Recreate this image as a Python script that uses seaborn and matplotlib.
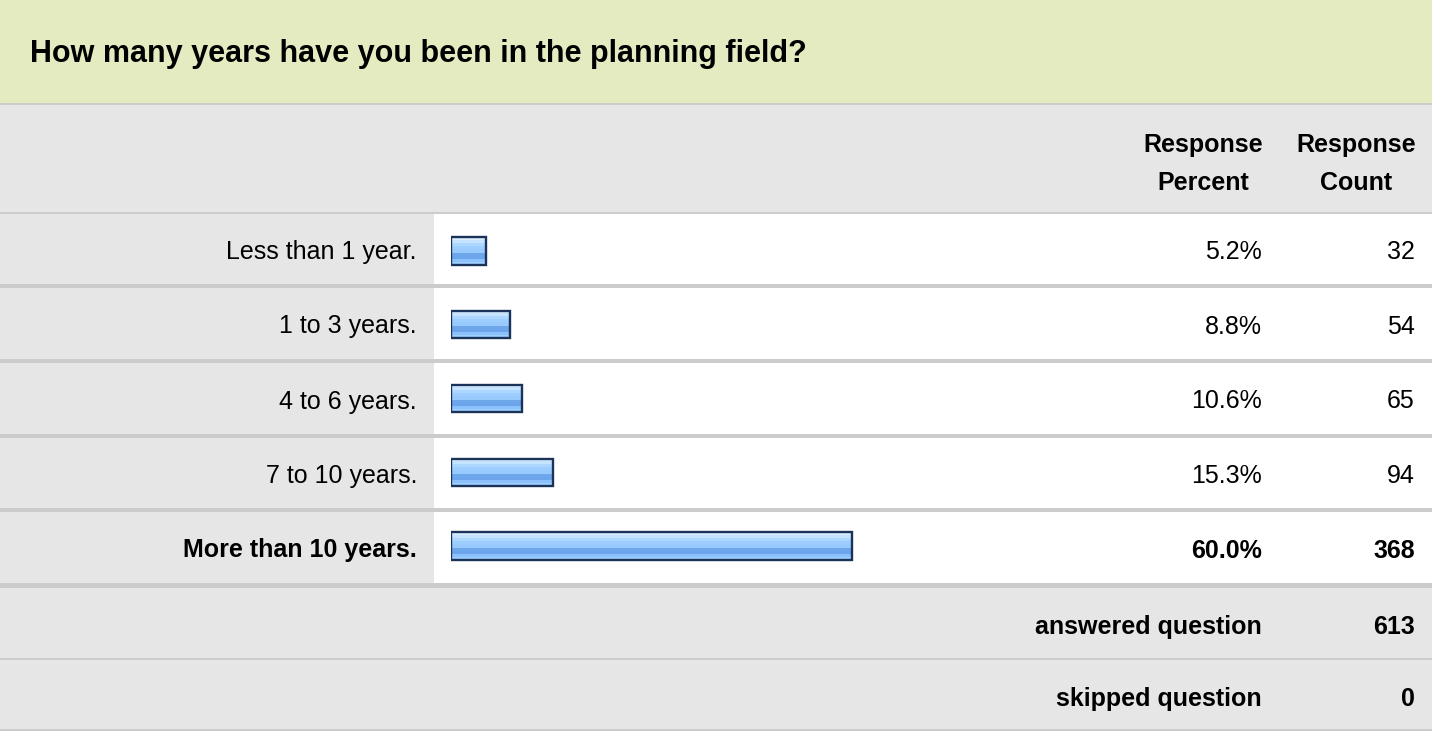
import matplotlib
matplotlib.use("Agg")
import matplotlib.pyplot as plt
import seaborn as sns
import numpy as np
import pandas as pd
from matplotlib.patches import Rectangle
from matplotlib.colors import LinearSegmentedColormap

# ---- data ----
title = "How many years have you been in the planning field?"
categories = ["Less than 1 year.", "1 to 3 years.", "4 to 6 years.",
              "7 to 10 years.", "More than 10 years."]
percents = [5.2, 8.8, 10.6, 15.3, 60.0]
counts = [32, 54, 65, 94, 368]
answered = 613
skipped = 0

sns.set_theme(style="white")
plt.rcParams['font.family'] = ['Liberation Sans', 'DejaVu Sans']
plt.rcParams['text.color'] = 'black'

W, H = 1432, 731
fig = plt.figure(figsize=(W / 100, H / 100), dpi=100)
fig.patch.set_facecolor("white")

# background axes in pixel coordinates
bg = fig.add_axes([0, 0, 1, 1])
bg.set_xlim(0, W)
bg.set_ylim(H, 0)
bg.axis("off")

GRAY = "#e6e6e6"
LINE = "#cccccc"
GREEN = "#e5ebc1"


def rect(x0, y0, x1, y1, c, z=0):
    bg.add_patch(Rectangle((x0, y0), x1 - x0, y1 - y0, facecolor=c,
                           edgecolor="none", zorder=z))


# title band
rect(0, 0, W, 103, GREEN)
rect(0, 103, W, 105, LINE)
# header band
rect(0, 105, W, 212, GRAY)
rect(0, 212, W, 214, LINE)

row_tops = [214, 288, 363, 438, 512]
row_bots = [284, 359, 434, 508, 583]
for t, b in zip(row_tops, row_bots):
    rect(0, t, 434, b, GRAY)
    rect(434, t, W, b, "white")
    rect(0, b, W, b + 4.5, LINE)

# summary rows
rect(0, 588, W, 658, GRAY)
rect(0, 658, W, 660, LINE)
rect(0, 660, W, 729, GRAY)
rect(0, 729, W, 731, LINE)

FS = 18
TC = "black"
fig.text(30 / W, 1 - 54 / H, title, fontsize=22, fontweight="bold",
         ha="left", va="center", color=TC)

# header text
for cx, (l1, l2) in zip([1203, 1356], [("Response", "Percent"), ("Response", "Count")]):
    bg.text(cx, 145, l1, fontsize=FS, fontweight="bold", ha="center", va="center", color=TC)
    bg.text(cx, 183, l2, fontsize=FS, fontweight="bold", ha="center", va="center", color=TC)

imax = int(np.argmax(percents))
for i, (cat, p, c) in enumerate(zip(categories, percents, counts)):
    yc = (row_tops[i] + row_bots[i]) / 2 + 3
    fw = "bold" if i == imax else "normal"
    bg.text(417, yc, cat, fontsize=FS, fontweight=fw, ha="right", va="center", color=TC)
    bg.text(1262, yc, f"{p:.1f}%", fontsize=FS, fontweight=fw, ha="right", va="center", color=TC)
    bg.text(1415, yc, f"{c}", fontsize=FS, fontweight=fw, ha="right", va="center", color=TC)

bg.text(1262, 627, "answered question", fontsize=FS, fontweight="bold", ha="right", va="center", color=TC)
bg.text(1415, 627, f"{answered}", fontsize=FS, fontweight="bold", ha="right", va="center", color=TC)
bg.text(1262, 699, "skipped question", fontsize=FS, fontweight="bold", ha="right", va="center", color=TC)
bg.text(1415, 699, f"{skipped}", fontsize=FS, fontweight="bold", ha="right", va="center", color=TC)

# ---- bar axes ----
x0px, scale = 451, 6.68
ax_left, ax_w = x0px / W, 100 * scale / W
ax_top, ax_bot = 214, 583
bax = fig.add_axes([ax_left, 1 - ax_bot / H, ax_w, (ax_bot - ax_top) / H])
bax.patch.set_alpha(0)
df = pd.DataFrame({"category": categories, "percent": percents})
sns.barplot(data=df, x="percent", y="category", orient="h", width=0.37,
            color="#99ccff", edgecolor="#1b3358", linewidth=1.7, ax=bax,
            saturation=1)
bax.set_xlim(0, 100)
bax.set_ylim(len(categories) - 0.5, -0.5)
bax.axis("off")

grad_colors = ['#d9edff', '#c6e3ff', '#afd8ff', '#9ecfff', '#99cbff',
               '#6ea7ec', '#6ca5eb', '#8bc2fe', '#9dcfff']
cmap = LinearSegmentedColormap.from_list("g", grad_colors)
grad = np.linspace(0, 1, 9).reshape(-1, 1)
for patch in list(bax.patches):
    bx, by = patch.get_x(), patch.get_y()
    bw, bh = patch.get_width(), patch.get_height()
    patch.set_facecolor("none")
    patch.set_zorder(3)
    im = bax.imshow(grad, cmap=cmap, aspect="auto",
                    extent=[bx, bx + bw, by + bh, by], zorder=2,
                    interpolation="nearest")
    im.set_clip_path(patch)
bax.set_xlim(0, 100)
bax.set_ylim(len(categories) - 0.5, -0.5)

fig.savefig("out.png", dpi=100)
